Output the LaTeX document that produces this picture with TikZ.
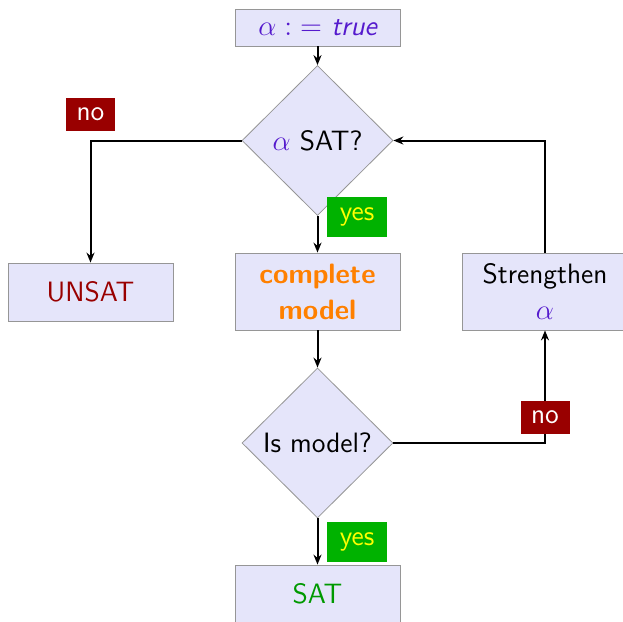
\documentclass[tikz,border=0pt]{standalone}
\usetikzlibrary{shapes.geometric,arrows.meta}
\definecolor{boxfill}{RGB}{229,229,250}
\definecolor{boxline}{RGB}{150,150,150}
\definecolor{alphacol}{RGB}{85,26,205}
\definecolor{orangecol}{RGB}{255,128,0}
\definecolor{redcol}{RGB}{153,0,0}
\definecolor{greentext}{RGB}{0,153,0}
\definecolor{greenfill}{RGB}{0,178,0}
\definecolor{yellowtext}{RGB}{255,255,0}
\newcommand{\al}{\textcolor{alphacol}{$\alpha$}}
\begin{document}
\begin{tikzpicture}[x=0.5pt,y=-0.5pt,
  font=\sffamily\fontsize{14}{17}\selectfont,
  procbox/.style={draw=boxline,fill=boxfill,rectangle,minimum width=82.5pt,inner sep=2pt,align=center},
  decision/.style={draw=boxline,fill=boxfill,diamond,minimum width=75.5pt,minimum height=75pt,inner sep=0pt},
  nolabel/.style={fill=redcol,text=white,minimum width=24.5pt,minimum height=16.5pt,inner sep=0pt},
  yeslabel/.style={fill=greenfill,text=yellowtext,minimum width=30pt,minimum height=20pt,inner sep=0pt},
  flow/.style={draw=black,line width=1pt,-{Stealth[length=5pt,width=4pt]}}]
\useasboundingbox (0,0) rectangle (623,622);
% process boxes and decisions
\node[procbox,minimum height=18.5pt] (init) at (317.5,27.5) {\textcolor{alphacol}{$\alpha :\;=$\ \itshape true}};
\node[decision] (sat1) at (317.5,140.5) {\al{} SAT?};
\node[procbox,minimum height=29pt] (unsat) at (90.5,292) {\textcolor{redcol}{UNSAT}};
\node[procbox,minimum height=38.5pt] (model) at (317.5,291.5) {\textcolor{orangecol}{\bfseries complete}\\[1pt]\textcolor{orangecol}{\bfseries model}};
\node[procbox,minimum height=38.5pt] (stren) at (545,291.5) {Strengthen\\[1pt]\al};
\node[decision] (sat2) at (317.5,443) {Is model?};
\node[procbox,minimum height=29pt] (sat) at (317.5,594) {\textcolor{greentext}{SAT}};
% connectors
\draw[flow] (init) -- (sat1);
\draw[flow] (sat1.west) -| (unsat.north);
\draw[flow] (sat1.south) -- (model.north);
\draw[flow] (model.south) -- (sat2.north);
\draw[flow] (sat2.south) -- (sat.north);
\draw[flow] (sat2.east) -| (stren.south);
\draw[flow] (stren.north) |- (sat1.east);
% branch labels
\node[nolabel] (no1) at (90.5,114.5) {no};
\node[yeslabel] (yes1) at (357,217) {yes};
\node[nolabel] (no2) at (545,417.5) {no};
\node[yeslabel] (yes2) at (357,542) {yes};
\end{tikzpicture}
\end{document}
